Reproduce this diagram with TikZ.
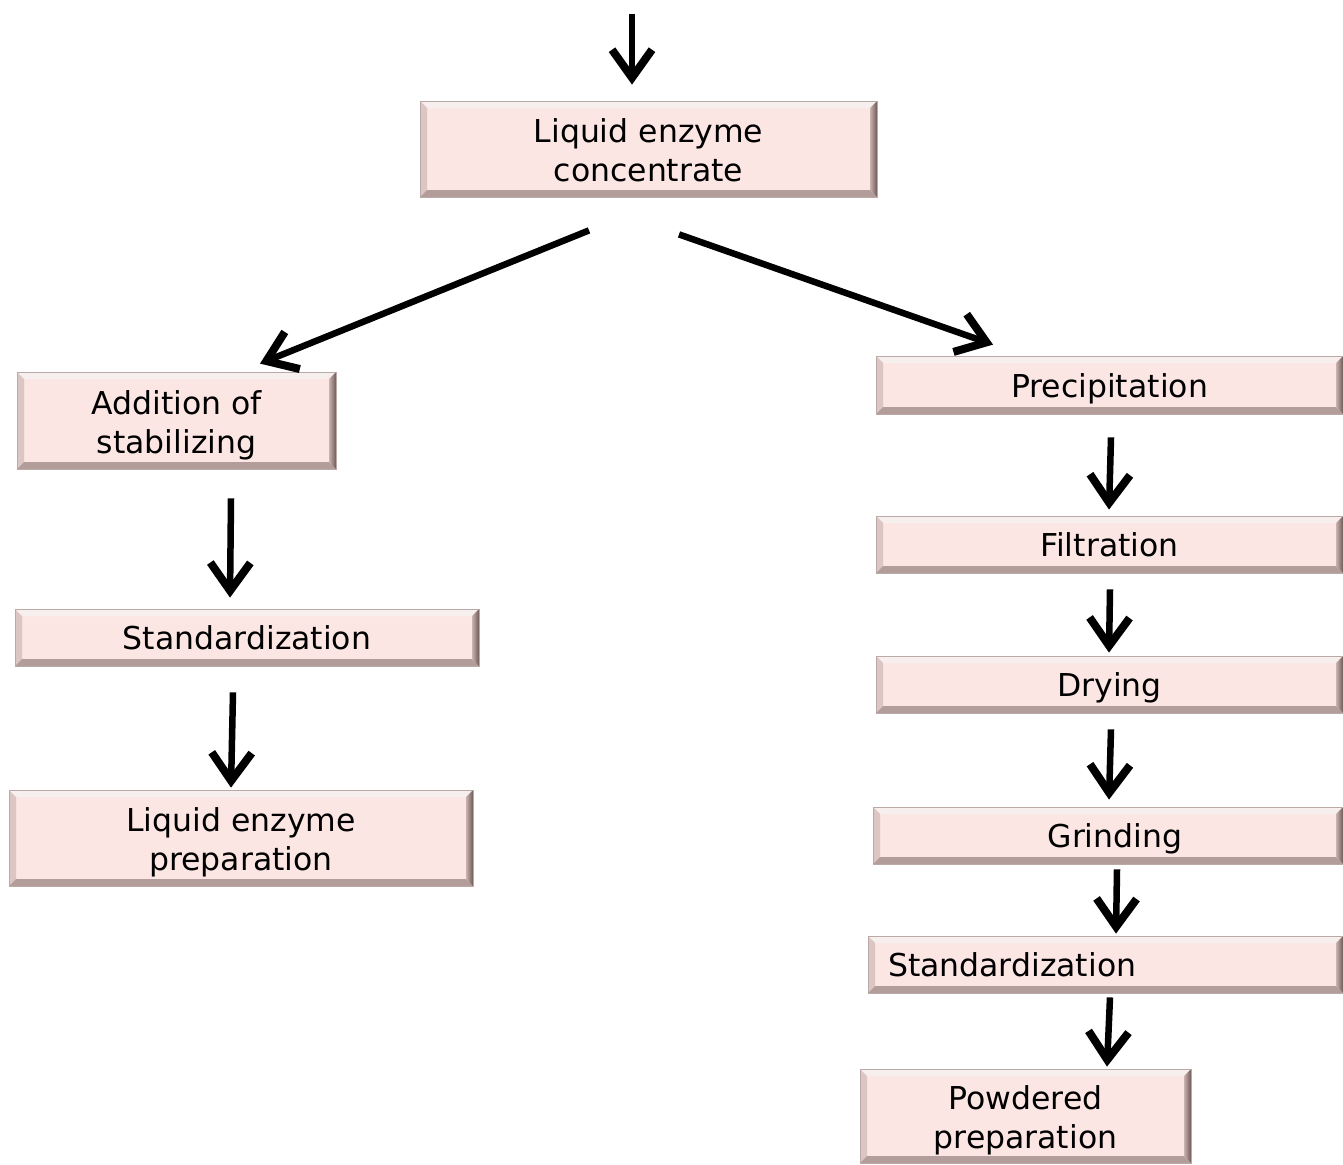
\documentclass[tikz,border=0pt]{standalone}
\usepackage{fontspec}
\setmainfont{DejaVu Sans}
\usetikzlibrary{arrows.meta,calc}
\definecolor{boxfill}{HTML}{FCE6E4}
\definecolor{bvtop}{HTML}{F7EFEE}
\definecolor{bvleft}{HTML}{DCC6C4}
\definecolor{bvbot}{HTML}{B39D9B}
\definecolor{bvrightA}{HTML}{C9B2B0}
\definecolor{bvrightB}{HTML}{6F5a58}
\definecolor{bvedge}{HTML}{BBA9A7}
\tikzset{
  bevelbox/.style={
    rectangle, inner sep=0pt, fill=boxfill, draw=bvedge, line width=0.8pt,
    align=center, font=\fontsize{31.5}{39}\selectfont,
    path picture={
      \coordinate (q1) at (path picture bounding box.north west);
      \coordinate (q2) at (path picture bounding box.north east);
      \coordinate (q3) at (path picture bounding box.south east);
      \coordinate (q4) at (path picture bounding box.south west);
      \fill[bvtop] (q1) -- (q2) -- ([shift={(-7pt,-7pt)}]q2) -- ([shift={(7pt,-7pt)}]q1) -- cycle;
      \fill[bvleft] (q4) -- (q1) -- ([shift={(7pt,-7pt)}]q1) -- ([shift={(7pt,7pt)}]q4) -- cycle;
      \fill[bvbot] (q3) -- (q4) -- ([shift={(7pt,7pt)}]q4) -- ([shift={(-7pt,7pt)}]q3) -- cycle;
      \shade[left color=bvrightA, right color=bvrightB] (q2) -- (q3) -- ([shift={(-7pt,7pt)}]q3) -- ([shift={(-7pt,-7pt)}]q2) -- cycle;
    }},
  oneline/.style={text height=32pt, text depth=8pt},
  twoline/.style={text height=77pt, text depth=12pt},
  flow/.style={line width=6.5pt, -{Straight Barb[length=28pt,width=40pt,line width=8pt]}},
}
\begin{document}
\begin{tikzpicture}[x=1pt,y=-1pt]
  \useasboundingbox (0,0) rectangle (1343,1164);

  % main concentrate box
  \node[bevelbox, twoline, minimum width=457pt, minimum height=96pt] (conc) at (648.5,149) {Liquid enzyme\\concentrate};

  % liquid branch
  \node[bevelbox, twoline, minimum width=319pt, minimum height=97pt] (addn) at (176.5,420.5) {Addition of\\stabilizing};
  \node[bevelbox, oneline, minimum width=464pt, minimum height=57pt] (stdL) at (247,637.5) {Standardization};
  \node[bevelbox, twoline, minimum width=464pt, minimum height=96pt] (liqp) at (241,838) {Liquid enzyme\\preparation};

  % powder branch
  \node[bevelbox, oneline, minimum width=467pt, minimum height=58pt] (prec) at (1109.5,385) {Precipitation};
  \node[bevelbox, oneline, minimum width=467pt, minimum height=57pt] (filt) at (1109.5,544.5) {Filtration};
  \node[bevelbox, oneline, minimum width=467pt, minimum height=57pt] (dry) at (1109.5,684.5) {Drying};
  \node[bevelbox, oneline, minimum width=470pt, minimum height=57pt] (grind) at (1108,835.5) {\hspace*{14pt}Grinding};
  \node[bevelbox, oneline, minimum height=57pt, text width=435pt, inner xsep=20pt, align=left] (stdR) at (1105.5,964.5) {Standardization};
  \node[bevelbox, twoline, minimum width=331pt, minimum height=94pt] (powd) at (1025.5,1116) {Powdered\\preparation};

  % incoming arrow
  \coordinate (feed) at (632,14);
  \draw[flow] (feed) -- ($(conc.north)+(-16.5,-16)$);

  % split
  \draw[flow] ($(conc.south)+(-59.5,33)$) -- ($(addn.north)+(83.5,-8)$);
  \draw[flow] ($(conc.south)+(30.5,37)$) -- ($(prec.north)+(-116.5,-11)$);

  % liquid branch arrows
  \draw[flow] ($(addn.south)+(54.5,29)$) -- ($(stdL.north)+(-17,-11)$);
  \draw[flow] ($(stdL.south)+(-14,26)$) -- ($(liqp.north)+(-10,-2)$);

  % powder branch arrows
  \draw[flow] ($(prec.south)+(1.5,23)$) -- ($(filt.north)+(-0.5,-6)$);
  \draw[flow] ($(filt.south)+(0.5,16)$) -- ($(dry.north)+(-0.5,-3)$);
  \draw[flow] ($(dry.south)+(1.5,16)$) -- ($(grind.north)+(1,-7)$);
  \draw[flow] ($(grind.south)+(9,5)$) -- ($(stdR.north)+(10.5,-2)$);
  \draw[flow] ($(stdR.south)+(4.5,4)$) -- ($(powd.north)+(81.5,-2)$);
\end{tikzpicture}
\end{document}
